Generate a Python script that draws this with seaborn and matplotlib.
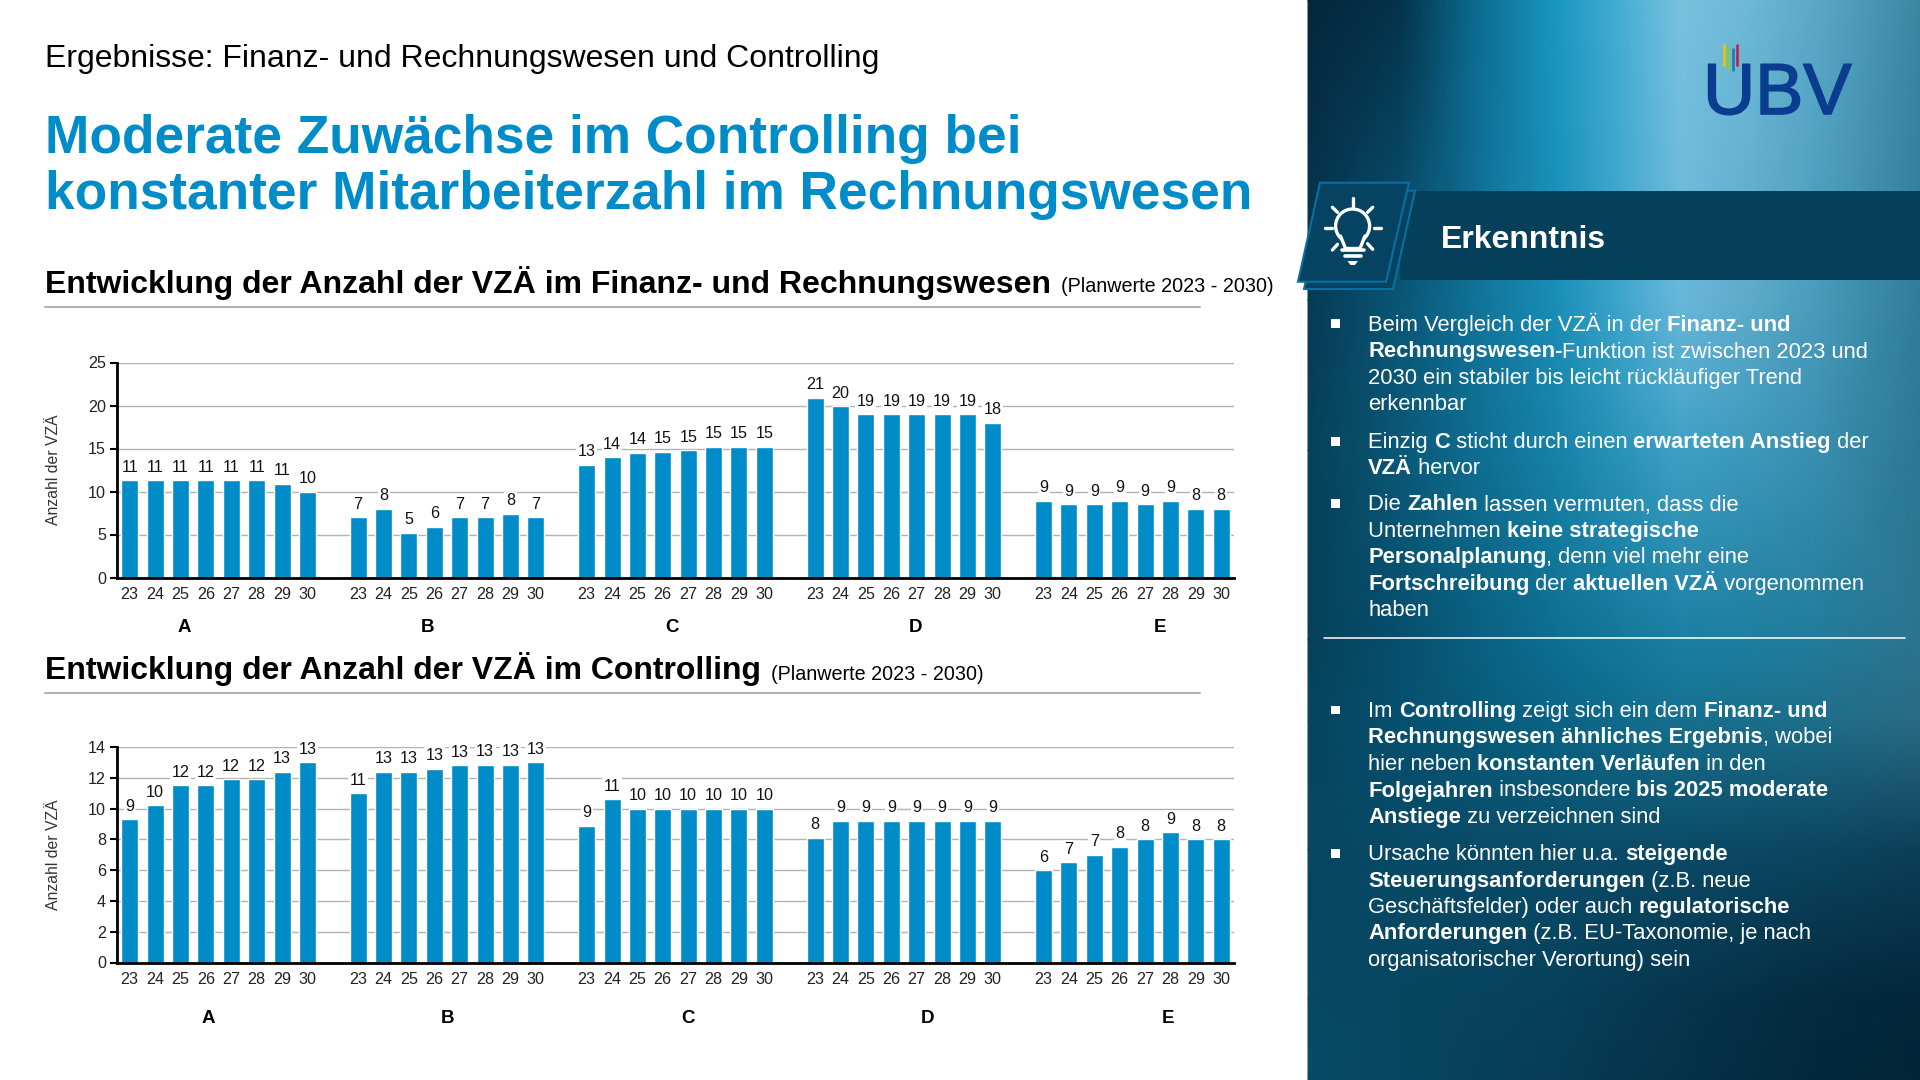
import numpy as np
import pandas as pd
import seaborn as sns
from matplotlib import pyplot as plt
from matplotlib import patheffects
from matplotlib.colors import to_rgb
from matplotlib.patches import Polygon, Rectangle, Ellipse

# values
groups = ["A", "B", "C", "D", "E"]
years = ["23", "24", "25", "26", "27", "28", "29", "30"]

finance_a = [11.3, 11.3, 11.3, 11.3, 11.3, 11.3, 10.9, 10.0]
finance_b = [7.0, 8.0, 5.2, 5.9, 7.0, 7.0, 7.4, 7.0]
finance_c = [13.1, 14.0, 14.5, 14.6, 14.8, 15.2, 15.2, 15.2]
finance_d = [20.9, 19.9, 19.0, 19.0, 19.0, 19.0, 19.0, 18.0]
finance_e = [8.9, 8.5, 8.5, 8.9, 8.5, 8.9, 8.0, 8.0]
finance_labels = [11, 11, 11, 11, 11, 11, 11, 10,
                  7, 8, 5, 6, 7, 7, 8, 7,
                  13, 14, 14, 15, 15, 15, 15, 15,
                  21, 20, 19, 19, 19, 19, 19, 18,
                  9, 9, 9, 9, 9, 9, 8, 8]

controlling_a = [9.3, 10.2, 11.5, 11.5, 11.9, 11.9, 12.4, 13.0]
controlling_b = [11.0, 12.4, 12.4, 12.6, 12.8, 12.85, 12.85, 13.0]
controlling_c = [8.9, 10.6, 10.0, 10.0, 10.0, 10.0, 10.0, 10.0]
controlling_d = [8.1, 9.2, 9.2, 9.2, 9.2, 9.2, 9.2, 9.2]
controlling_e = [6.0, 6.5, 7.0, 7.5, 8.0, 8.45, 8.0, 8.0]
controlling_labels = [9, 10, 12, 12, 12, 12, 13, 13,
                      11, 13, 13, 13, 13, 13, 13, 13,
                      9, 11, 10, 10, 10, 10, 10, 10,
                      8, 9, 9, 9, 9, 9, 9, 9,
                      6, 7, 7, 8, 8, 9, 8, 8]

# panel text, one list of (text, bold) per line
block_one = [
    [("Beim Vergleich der VZÄ in der ", 0), ("Finanz- und", 1)],
    [("Rechnungswesen-", 1), ("Funktion ist zwischen 2023 und", 0)],
    [("2030 ein stabiler bis leicht rückläufiger Trend", 0)],
    [("erkennbar", 0)],
    [("Einzig ", 0), ("C", 1), (" sticht durch einen ", 0), ("erwarteten Anstieg", 1), (" der", 0)],
    [("VZÄ", 1), (" hervor", 0)],
    [("Die ", 0), ("Zahlen", 1), (" lassen vermuten, dass die", 0)],
    [("Unternehmen ", 0), ("keine strategische", 1)],
    [("Personalplanung", 1), (", denn viel mehr eine", 0)],
    [("Fortschreibung", 1), (" der ", 0), ("aktuellen VZÄ", 1), (" vorgenommen", 0)],
    [("haben", 0)],
]
block_one_y = [331, 357.5, 384, 410.5, 448, 474, 510.5, 537, 563.5, 590, 616.5]
block_two = [
    [("Im ", 0), ("Controlling", 1), (" zeigt sich ein dem ", 0), ("Finanz- und", 1)],
    [("Rechnungswesen ähnliches Ergebnis", 1), (", wobei", 0)],
    [("hier neben ", 0), ("konstanten Verläufen", 1), (" in den", 0)],
    [("Folgejahren", 1), (" insbesondere ", 0), ("bis 2025 moderate", 1)],
    [("Anstiege", 1), (" zu verzeichnen sind", 0)],
    [("Ursache könnten hier u.a. ", 0), ("steigende", 1)],
    [("Steuerungsanforderungen", 1), (" (z.B. neue", 0)],
    [("Geschäftsfelder) oder auch ", 0), ("regulatorische", 1)],
    [("Anforderungen", 1), (" (z.B. EU-Taxonomie, je nach", 0)],
    [("organisatorischer Verortung) sein", 0)],
]
block_two_y = [717, 743.5, 770, 796.5, 823, 860, 886.5, 913, 939.5, 966]
bullet_y = [323, 441, 503, 709.5, 853]

# background colours of the side panel
panel_x = [1308, 1400, 1480, 1557, 1620, 1680, 1750, 1814, 1920]
panel_y = [0, 300, 450, 640, 720, 850, 1000, 1080]
panel_colors = [
    ["#04263a", "#04334a", "#0d6d92", "#1a97c2", "#45add3", "#78c2df", "#6cb8d6", "#5aa9c8", "#3a87a3"],
    ["#063a55", "#0a5676", "#12749a", "#1a8fb8", "#3ea5cc", "#68b8da", "#5cabcb", "#4a9cbc", "#2e7d9b"],
    ["#074058", "#0a5878", "#0f6f92", "#1783a8", "#2a93b8", "#3fa0c4", "#3d98ba", "#3a8fb0", "#2a7894"],
    ["#064058", "#074f6e", "#0a6081", "#0e6f92", "#14789b", "#1b7fa3", "#1e7e9f", "#217c9b", "#2b7490"],
    ["#064460", "#06506f", "#085b7b", "#0a6485", "#106b8b", "#16708f", "#1a6f8c", "#1e6e8a", "#2a6b84"],
    ["#074561", "#084a66", "#094b68", "#0a4c69", "#0a4b68", "#0a4a66", "#0a4863", "#0b4560", "#0b3f58"],
    ["#074865", "#07465f", "#07435d", "#07405a", "#063a53", "#06354d", "#053046", "#042b3f", "#03263a"],
    ["#084a68", "#074660", "#06415a", "#063c55", "#05374e", "#053248", "#042d41", "#03283b", "#032538"],
]

BLUE = "#008bc9"
GRID = "#b2b2b2"
FIG_W, FIG_H = 1920, 1080

sns.set_theme(style="white")
plt.rcParams["font.family"] = ["Liberation Sans", "DejaVu Sans"]

fig = plt.figure(figsize=(19.2, 10.8), dpi=100, facecolor="white")
page = fig.add_axes([0, 0, 1, 1], zorder=0)
page.set_xlim(0, FIG_W)
page.set_ylim(FIG_H, 0)
page.axis("off")
renderer = fig.canvas.get_renderer()


def text_width(text, size, weight):
    full = page.text(0, 0, text + ".", fontsize=size, fontweight=weight)
    dot = page.text(0, 0, ".", fontsize=size, fontweight=weight)
    width = full.get_window_extent(renderer).width - dot.get_window_extent(renderer).width
    full.remove()
    dot.remove()
    return width


def rich_line(x, y, parts, size, color="white"):
    for text, bold in parts:
        weight = "bold" if bold else "normal"
        page.text(x, y, text, fontsize=size, fontweight=weight, color=color, va="baseline")
        x += text_width(text, size, weight)


def draw_chart(top, bottom, series, labels, ymax, step, group_x, group_y):
    rows = []
    for g, values in enumerate(series):
        for j, value in enumerate(values):
            rows.append({"slot": g * 9 + j, "value": value})
    df = pd.DataFrame(rows)

    ax = fig.add_axes([117 / FIG_W, 1 - bottom / FIG_H, (1234 - 117) / FIG_W, (bottom - top) / FIG_H], zorder=1)
    ax.patch.set_alpha(0)
    sns.barplot(data=df, x="slot", y="value", order=list(range(44)), color=BLUE,
                saturation=1, width=0.67, ax=ax, zorder=3)
    ax.set_ylim(0, ymax)
    ax.set_xlim(-0.5, 43.5)
    ax.set_yticks(np.arange(0, ymax + 1, step))
    ax.set_xticks(df["slot"])
    ax.set_xticklabels(years * 5)
    ax.tick_params(axis="x", length=0, pad=6.5, labelsize=11.6, labelcolor="#222222")
    ax.tick_params(axis="y", length=5, width=1.5, color="black", pad=3, left=True,
                   labelsize=11.6, labelcolor="#222222")
    ax.set_xlabel("")
    ax.set_ylabel("")
    ax.grid(axis="y", color=GRID, lw=1.0, zorder=0)
    ax.set_axisbelow(True)
    for side in ["top", "right"]:
        ax.spines[side].set_visible(False)
    for side in ["left", "bottom"]:
        ax.spines[side].set_color("black")
        ax.spines[side].set_linewidth(2)
        ax.spines[side].set_zorder(5)
    texts = ax.bar_label(ax.containers[0], labels=[str(v) for v in labels], padding=4,
                         fontsize=11.6, color="#111111", zorder=4)
    for t in texts:
        t.set_bbox(dict(facecolor="white", edgecolor="none", pad=1.0))

    page.text(53.5, (top + bottom) / 2, "Anzahl der VZÄ", rotation=90, fontsize=11.3,
              color="#333333", ha="center", va="center")
    for name, x in zip(groups, group_x):
        page.text(x, group_y, name, fontsize=13.5, fontweight="bold", color="black",
                  ha="center", va="center")


# left part: headings
page.text(45, 67.5, "Ergebnisse: Finanz- und Rechnungswesen und Controlling", fontsize=23,
          color="black", va="baseline")
page.text(45, 152.5, "Moderate Zuwächse im Controlling bei", fontsize=38.3, fontweight="bold",
          color=BLUE, va="baseline")
page.text(45, 209.5, "konstanter Mitarbeiterzahl im Rechnungswesen", fontsize=38.3, fontweight="bold",
          color=BLUE, va="baseline")
page.text(45, 292.5, "Entwicklung der Anzahl der VZÄ im Finanz- und Rechnungswesen", fontsize=23,
          fontweight="bold", color="black", va="baseline")
page.text(1061, 292, "(Planwerte 2023 - 2030)", fontsize=14.2, color="black", va="baseline")
page.text(45, 679.5, "Entwicklung der Anzahl der VZÄ im Controlling", fontsize=23,
          fontweight="bold", color="black", va="baseline")
page.text(771, 679.5, "(Planwerte 2023 - 2030)", fontsize=14.2, color="black", va="baseline")
page.plot([45, 1200], [306.7, 306.7], color=GRID, lw=1.5)
page.plot([45, 1200], [693, 693], color=GRID, lw=1.5)

# charts
draw_chart(362.5, 577.5, [finance_a, finance_b, finance_c, finance_d, finance_e], finance_labels,
           25, 5, [184, 428, 672, 916, 1160], 628)
draw_chart(747, 962.5, [controlling_a, controlling_b, controlling_c, controlling_d, controlling_e],
           controlling_labels, 14, 2, [208, 448, 688, 928, 1168], 1018.5)

# side panel
rgb = np.array([[to_rgb(c) for c in row] for row in panel_colors])
page.pcolormesh(panel_x, panel_y, rgb, shading="gouraud", zorder=0, rasterized=True)
page.set_xlim(0, FIG_W)
page.set_ylim(FIG_H, 0)
page.add_patch(Rectangle((1400, 191), 520, 89, facecolor="#07405b", edgecolor="none", zorder=1))
page.add_patch(Polygon([(1327, 190.7), (1415, 190.7), (1393, 289), (1304, 289)], closed=True,
                       facecolor="#064362", edgecolor="#0a6f9f", lw=1.5, zorder=2))
page.add_patch(Polygon([(1320, 182.7), (1409, 182.7), (1386, 281.7), (1298, 281.7)], closed=True,
                       facecolor="#064362", edgecolor="#0a6f9f", lw=1.5, zorder=3))

# light bulb icon
bulb_rays = [((1352.6, 198), (1352.6, 206)), ((1324.5, 228), (1331.6, 228)), ((1373.5, 228), (1380.6, 228)),
             ((1332.4, 207.3), (1337.5, 212.3)), ((1372.7, 207.3), (1367.6, 212.3)),
             ((1332.4, 250), (1337.5, 244.3)), ((1372.7, 249.3), (1367.6, 243.7))]
for a, b in bulb_rays:
    page.plot([a[0], b[0]], [a[1], b[1]], color="white", lw=2.4, solid_capstyle="round", zorder=4)
page.add_patch(Ellipse((1352.6, 226), 34, 34, facecolor="none", edgecolor="white", lw=2.4, zorder=4))
page.add_patch(Polygon([(1341, 238), (1345.5, 248.5), (1360, 248.5), (1364.5, 238)], closed=True,
                       facecolor="#064362", edgecolor="none", zorder=4))
page.plot([1340.5, 1345.5, 1360, 1365], [236, 248.5, 248.5, 236], color="white", lw=2.4, zorder=5)
page.plot([1342, 1363.5], [249.5, 249.5], color="white", lw=2.6, zorder=5)
page.plot([1345, 1360.5], [255.5, 255.5], color="white", lw=2.6, zorder=5)
page.add_patch(Polygon([(1347.5, 261), (1358, 261), (1355, 265), (1350.5, 265)], closed=True,
                       facecolor="white", edgecolor="none", zorder=5))

page.text(1441, 239.5, "Erkenntnis", fontsize=23, fontweight="bold", color="white", va="center", zorder=4)

# logo
logo = page.text(1703, 114, "UBV", fontsize=52, color="#0a3d8f", va="baseline", zorder=4)
logo.set_path_effects([patheffects.withStroke(linewidth=1.2, foreground="#0a3d8f")])
for x, y0, y1, c in [(1723.7, 44, 66, "#f2c200"), (1728, 48, 70, "#8cc63f"),
                     (1733, 48, 71, "#1f78b4"), (1737, 44, 66, "#c8193c")]:
    page.plot([x, x], [y0, y1], color=c, lw=1.8, solid_capstyle="butt", zorder=5)

# panel text
for parts, y in zip(block_one + block_two, block_one_y + block_two_y):
    rich_line(1368, y, parts, 15.85)
for y in bullet_y:
    page.add_patch(Rectangle((1331, y - 4), 8.5, 8.5, facecolor="white", edgecolor="none", zorder=4))
page.plot([1324, 1905], [638.3, 638.3], color="white", lw=1.1, zorder=4)

fig.savefig("out.png", dpi=100)
